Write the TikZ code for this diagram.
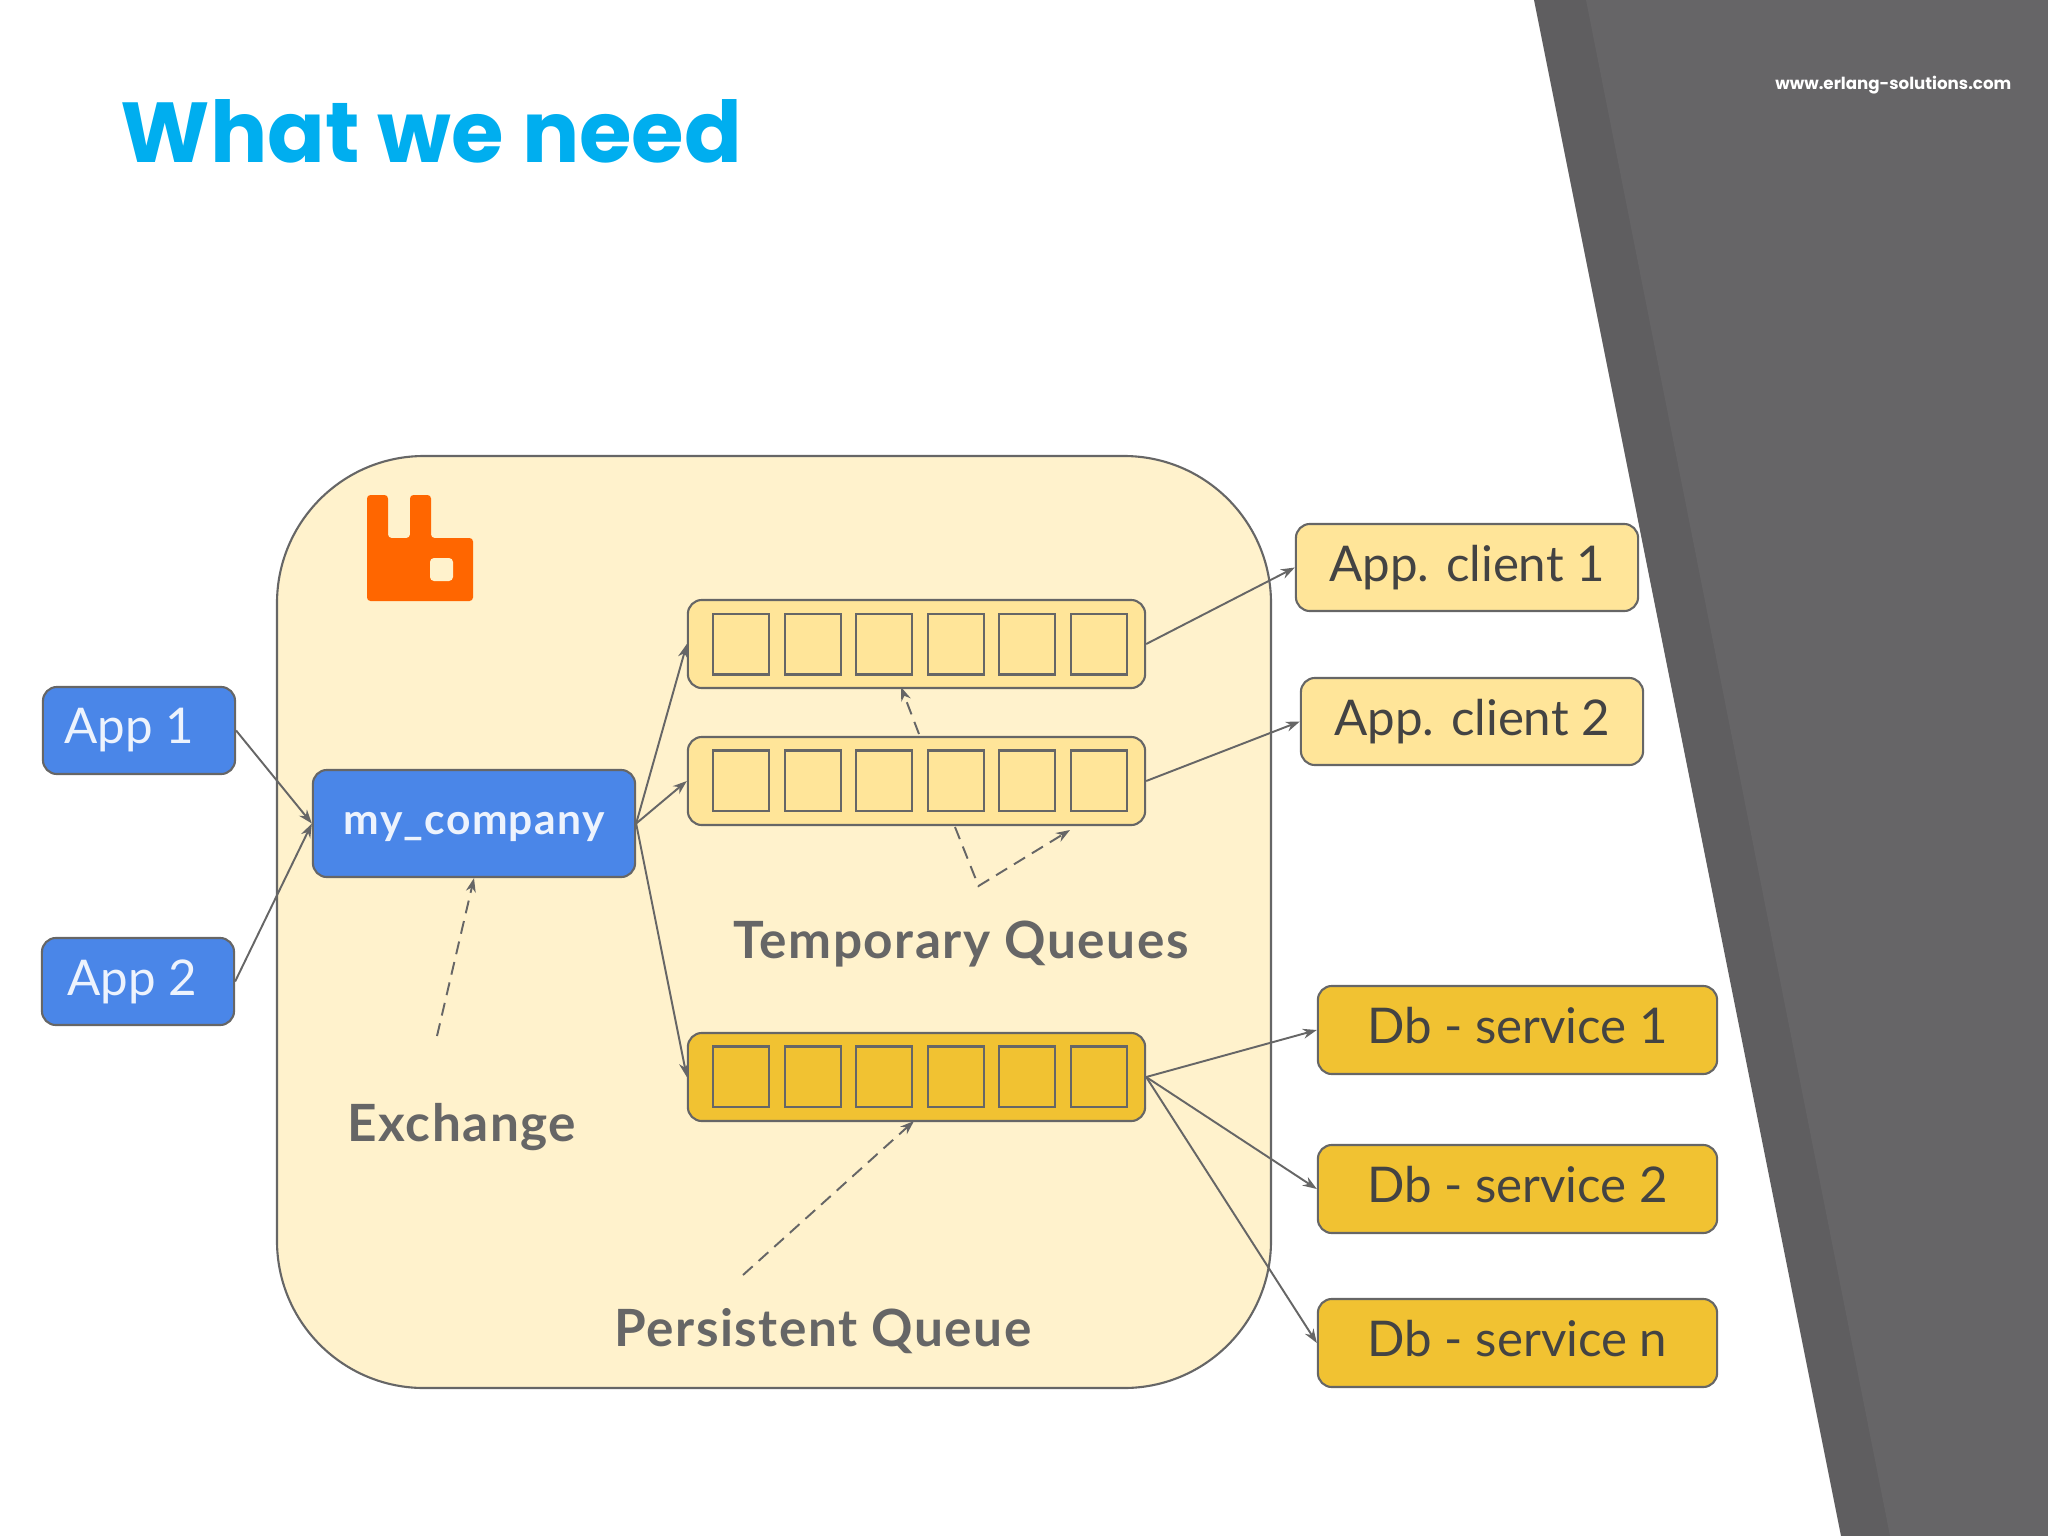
\documentclass[tikz,border=0pt]{standalone}
\usepackage{fontspec}
\usepackage{xcolor}
\usetikzlibrary{arrows.meta}
\setmainfont{Lato}
\newfontfamily\labelfont{Lato}[LetterSpace=3]
\newfontfamily\headfont{Poppins}

\definecolor{linegray}{HTML}{666666}
\definecolor{textgray}{HTML}{434343}
\definecolor{bandgray}{HTML}{5F5E60}
\definecolor{sidegray}{HTML}{666567}
\definecolor{titleblue}{HTML}{00AEEF}
\definecolor{brokerfill}{HTML}{FFF2CC}
\definecolor{lightqueue}{HTML}{FFE599}
\definecolor{darkqueue}{HTML}{F1C232}
\definecolor{appblue}{HTML}{4A86E8}
\definecolor{logoorange}{HTML}{FF6600}

\tikzset{
	box/.style={draw=linegray, line width=0.6pt, rounded corners=0.14cm, inner sep=0pt, text=textgray, font=\fontsize{14}{16}\selectfont},
	appbox/.style={box, fill=appblue, text=white!90!appblue},
	clientbox/.style={box, fill=lightqueue},
	dbbox/.style={box, fill=darkqueue, text depth=0.1cm},
	cell/.style={draw=linegray, line width=0.6pt},
	link/.style={draw=linegray, line width=0.55pt, -{Stealth[length=0.14cm, width=0.1cm]}},
	dashlink/.style={link, dash pattern=on 0.13cm off 0.08cm},
	caption/.style={text=linegray, font=\fontsize{14.6}{16}\labelfont\bfseries},
}

\begin{document}
\begin{tikzpicture}[x=0.01cm, y=-0.01cm]
	\useasboundingbox (0,0) rectangle (2048,1536);

	\fill[bandgray] (1534,0) -- (2048,0) -- (2048,1536) -- (1841,1536) -- cycle;
	\fill[sidegray] (1586,0) -- (2048,0) -- (2048,1536) -- (1890,1536) -- cycle;

	\node[anchor=base west, inner sep=0pt, text=titleblue, font=\fontsize{24.2}{30}\headfont\bfseries] (title) at (120,162) {What we need};
	\node[anchor=base east, inner sep=0pt, text=white, font=\fontsize{4.74}{6}\headfont\bfseries] (site) at (2012,89) {www.erlang-solutions.com};

	\draw[draw=linegray, line width=0.6pt, fill=brokerfill, rounded corners=1.47cm] (277,456) rectangle (1271,1388);

	\fill[logoorange, rounded corners=0.035cm] (367,495) -- (388,495) -- (388,538) -- (410,538) -- (410,495) -- (431,495) -- (431,538) -- (473,538) -- (473,601) -- (367,601) -- cycle;
	\fill[brokerfill, rounded corners=0.04cm] (430,558) rectangle (453,581);

	\node[appbox, minimum width=1.92cm, minimum height=0.87cm] (app1) at (139,730.5) {App 1\kern 0.2cm};
	\node[appbox, minimum width=1.92cm, minimum height=0.87cm] (app2) at (138,981.5) {App 2\kern 0.12cm};
	\node[appbox, minimum width=3.22cm, minimum height=1.07cm, text depth=0pt, font=\fontsize{12.1}{14}\labelfont\bfseries] (exchange) at (474,823.5) {my\_company};

	\node[clientbox, minimum width=4.57cm, minimum height=0.88cm] (queue1) at (916.5,644) {};
	\node[clientbox, minimum width=4.57cm, minimum height=0.88cm] (queue2) at (916.5,781) {};
	\node[dbbox, minimum width=4.57cm, minimum height=0.88cm] (queue3) at (916.5,1077) {};

	\draw[cell] (713,614) rectangle ++(56,60.5);
	\draw[cell] (785,614) rectangle ++(56,60.5);
	\draw[cell] (856,614) rectangle ++(56,60.5);
	\draw[cell] (928,614) rectangle ++(56,60.5);
	\draw[cell] (999,614) rectangle ++(56,60.5);
	\draw[cell] (1071,614) rectangle ++(56,60.5);

	\draw[cell] (713,750.5) rectangle ++(56,60.5);
	\draw[cell] (785,750.5) rectangle ++(56,60.5);
	\draw[cell] (856,750.5) rectangle ++(56,60.5);
	\draw[cell] (928,750.5) rectangle ++(56,60.5);
	\draw[cell] (999,750.5) rectangle ++(56,60.5);
	\draw[cell] (1071,750.5) rectangle ++(56,60.5);

	\draw[cell] (713,1046.5) rectangle ++(56,60.5);
	\draw[cell] (785,1046.5) rectangle ++(56,60.5);
	\draw[cell] (856,1046.5) rectangle ++(56,60.5);
	\draw[cell] (928,1046.5) rectangle ++(56,60.5);
	\draw[cell] (999,1046.5) rectangle ++(56,60.5);
	\draw[cell] (1071,1046.5) rectangle ++(56,60.5);

	\node[clientbox, minimum width=3.42cm, minimum height=0.87cm] (client1) at (1467,567.5) {App. client 1};
	\node[clientbox, minimum width=3.42cm, minimum height=0.87cm] (client2) at (1472,721.5) {App. client 2};
	\node[dbbox, minimum width=3.99cm, minimum height=0.88cm] (db1) at (1517.5,1030) {Db - service 1};
	\node[dbbox, minimum width=3.99cm, minimum height=0.88cm] (db2) at (1517.5,1189) {Db - service 2};
	\node[dbbox, minimum width=3.99cm, minimum height=0.88cm] (dbn) at (1517.5,1343) {Db - service n};

	\node[caption] (exchangelabel) at (462,1127) {Exchange};
	\node[caption] (templabel) at (961,944) {Temporary Queues};
	\node[caption] (persistlabel) at (823,1331) {Persistent Queue};

	\draw[link] (app1.east) -- (exchange.west);
	\draw[link] (app2.east) -- (exchange.west);
	\draw[link] (exchange.east) -- (queue1.west);
	\draw[link] (exchange.east) -- (queue2.west);
	\draw[link] (exchange.east) -- (queue3.west);
	\draw[link] (queue1.east) -- (client1.west);
	\draw[link] (queue2.east) -- (client2.west);
	\draw[link] (queue3.east) -- (db1.west);
	\draw[link] (queue3.east) -- (db2.west);
	\draw[link] (queue3.east) -- (dbn.west);

	\coordinate (exchangetail) at (437,1036);
	\coordinate (persisttail) at (743,1275);
	\coordinate (templow) at (955,827);
	\coordinate (tempknee) at (978.5,886);
	\coordinate (temphead) at (1070,830);
	\coordinate (tempmid) at (919,734);
	\coordinate (tempup) at (901,687);
	\coordinate (persisthead) at (914,1121);

	\draw[dashlink] (exchangetail) -- (exchange.south);
	\draw[dashlink] (persisttail) -- (persisthead);
	\draw[dashlink] (tempmid) -- (tempup);
	\draw[dashlink] (templow) -- (tempknee) -- (temphead);
\end{tikzpicture}
\end{document}
